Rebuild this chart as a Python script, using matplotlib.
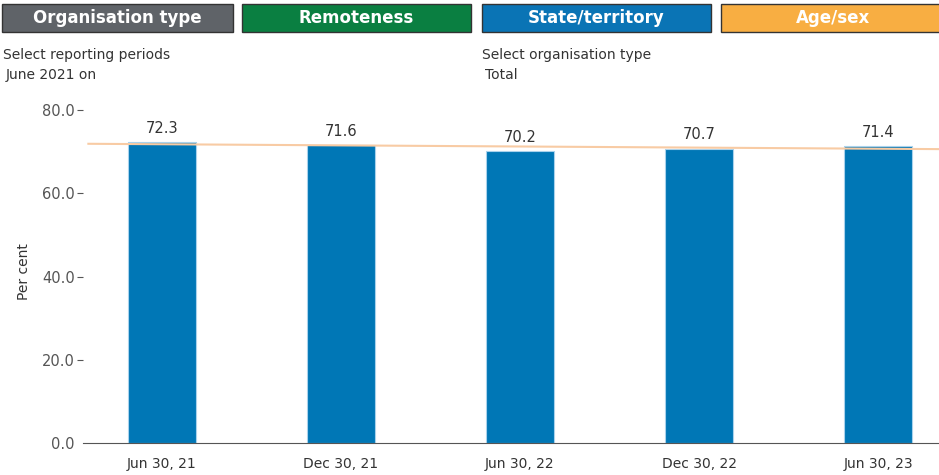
import matplotlib.pyplot as plt
import numpy as np
from matplotlib.patches import Rectangle

# data
periods = ['Jun 30, 21', 'Dec 30, 21', 'Jun 30, 22', 'Dec 30, 22', 'Jun 30, 23']
values = [72.3, 71.6, 70.2, 70.7, 71.4]
yticks = [0, 20, 40, 60, 80]
tabs = ['Organisation type', 'Remoteness', 'State/territory', 'Age/sex']
tab_colors = ['#5f6368', '#0a7f41', '#0a74b5', '#f8ae42']

W, H = 939, 475
fig = plt.figure(figsize=(W / 100, H / 100), dpi=100)
plt.rcParams['font.family'] = ['DejaVu Sans']

# top tab buttons
tab_x = [(2, 233), (242, 471), (482, 711), (721, 945)]
for (x0, x1), label, c in zip(tab_x, tabs, tab_colors):
    fig.patches.append(Rectangle((x0 / W, 1 - 32 / H), (x1 - x0) / W, 28 / H,
                                 transform=fig.transFigure, facecolor=c,
                                 edgecolor='#333333', linewidth=1))
    fig.text((x0 + x1) / 2 / W, 1 - 18 / H, label, ha='center', va='center',
             color='white', fontsize=12, fontweight='bold')

# filter captions
fig.text(3 / W, 1 - 55 / H, 'Select reporting periods', fontsize=10, color='#333333', va='center')
fig.text(6 / W, 1 - 75 / H, 'June 2021 on', fontsize=10, color='#333333', va='center')
fig.text(482 / W, 1 - 55 / H, 'Select organisation type', fontsize=10, color='#333333', va='center')
fig.text(485 / W, 1 - 75 / H, 'Total', fontsize=10, color='#333333', va='center')

# main axes: 0 -> y=442px, 80 -> y=110px
ymax = 82.5
px_per = (442 - 110) / 80
top_px = 442 - ymax * px_per
ax = fig.add_axes([83 / W, 1 - 443 / H, (W - 83) / W, (443 - top_px) / H])

x = np.arange(len(values))
ax.bar(x, values, width=0.38, color='#0077b6', edgecolor='#a9d2ec', linewidth=0.8, zorder=2)
for xi, v in zip(x, values):
    ax.text(xi, v + 1.5, f'{v:.1f}', ha='center', va='bottom', fontsize=10.5, color='#333333')

# linear trend line
xl = np.array([-0.41, 4.34])
slope, icpt = np.polyfit(x, values, 1)
ax.plot(xl, slope * xl + icpt, color='#f8cba4', linewidth=1.5, zorder=3)

ax.set_xlim(-0.44, 4.34)
ax.set_ylim(0, ymax)
ax.set_xticks(x)
ax.set_xticklabels(periods, fontsize=10, color='#333333')
ax.set_yticks(yticks)
ax.set_yticklabels([f'{t:.1f}' for t in yticks], fontsize=10.5, color='#555555')
ax.tick_params(axis='x', length=0, pad=10)
ax.tick_params(axis='y', length=4, color='#555555', pad=2)
ax.yaxis.get_major_ticks()[0].tick1line.set_visible(False)
for s in ['top', 'right', 'left']:
    ax.spines[s].set_visible(False)
ax.spines['bottom'].set_color('#555555')
ax.set_ylabel('Per cent', fontsize=10, color='#333333', labelpad=8)

fig.savefig('out.png', dpi=100)
